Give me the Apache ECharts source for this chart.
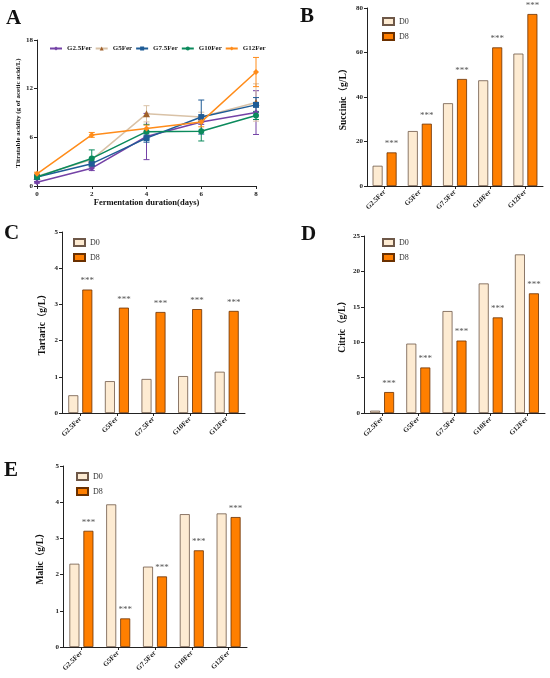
<!DOCTYPE html>
<html>
<head>
<meta charset="utf-8">
<script src="https://cdn.jsdelivr.net/npm/echarts@6/dist/echarts.min.js"></script>
<style>
  html, body { margin: 0; padding: 0; background: #fff; }
  #chart { width: 550px; height: 678px; }
</style>
</head>
<body>
<div id="chart"></div>
<script>
// panel A - titratable acidity over fermentation days
const days = [0, 2, 4, 6, 8];
const lineNames = ['G2.5Fer', 'G5Fer', 'G7.5Fer', 'G10Fer', 'G12Fer'];
const g25Acid = [0.45, 2.2, 6.1, 7.9, 9.05];
const g5Acid = [1.2, 3.25, 8.9, 8.5, 10.3];
const g75Acid = [1.1, 2.75, 5.9, 8.5, 10.0];
const g10Acid = [1.1, 3.4, 6.7, 6.75, 8.7];
const g12Acid = [1.5, 6.3, 7.1, 7.9, 14.05];
const g25Err = [0.1, 0.3, 2.85, 0.3, 2.7];
const g5Err = [0.1, 0.2, 1.0, 0.6, 2.3];
const g75Err = [0.1, 0.2, 0.5, 2.1, 0.9];
const g10Err = [0.1, 1.05, 0.9, 1.2, 0.5];
const g12Err = [0.2, 0.3, 0.4, 0.6, 1.8];

// panels B-E - acids at D0 and D8
const groups = ['G2.5Fer', 'G5Fer', 'G7.5Fer', 'G10Fer', 'G12Fer'];
const succD0 = [9.1, 24.7, 37.2, 47.5, 59.5];
const succD8 = [15.1, 28.0, 48.1, 62.3, 77.3];
const tartD0 = [0.49, 0.88, 0.94, 1.02, 1.14];
const tartD8 = [3.41, 2.91, 2.79, 2.87, 2.82];
const citD0 = [0.33, 9.8, 14.4, 18.3, 22.4];
const citD8 = [2.96, 6.43, 10.23, 13.5, 16.9];
const malD0 = [2.30, 3.94, 2.22, 3.67, 3.69];
const malD8 = [3.21, 0.79, 1.95, 2.67, 3.59];

const serif = 'Liberation Serif, Noto Sans CJK SC, serif';
const lineColors = ['#7442a6', '#d9c2a7', '#1f5c96', '#0b8a5c', '#ff8c1a'];
const markers = ['diamond', 'triangle', 'rect', 'circle', 'diamond'];
const acidSets = [g25Acid, g5Acid, g75Acid, g10Acid, g12Acid];
const errSets = [g25Err, g5Err, g75Err, g10Err, g12Err];

const chart = echarts.init(document.getElementById('chart'));

const grids = [
    { left: 37, top: 40, width: 219, height: 146 },   // A
    { left: 367, top: 8, width: 176, height: 178 },   // B
    { left: 62, top: 232, width: 183, height: 181 },  // C
    { left: 364, top: 236, width: 181, height: 177 }, // D
    { left: 63, top: 466, width: 184, height: 181 }   // E
];

const axisLine = { lineStyle: { color: '#222', width: 1 } };
const tickLabel = { fontFamily: serif, fontWeight: 'bold', fontSize: 7, color: '#222' };
const axisName = { fontFamily: serif, fontWeight: 'bold', fontSize: 9.5, color: '#111' };

const xAxes = [{
    gridIndex: 0, type: 'value', min: 0, max: 8, interval: 2,
    axisLine: axisLine, axisTick: { show: true, length: 3, lineStyle: { color: '#222' } },
    splitLine: { show: false }, axisLabel: Object.assign({ margin: 5 }, tickLabel),
    name: 'Fermentation duration(days)', nameLocation: 'middle', nameGap: 12,
    nameTextStyle: Object.assign({}, axisName, { fontSize: 8.5 })
}];
const yAxes = [{
    gridIndex: 0, type: 'value', min: 0, max: 18, interval: 6,
    axisLine: Object.assign({ show: true }, axisLine),
    axisTick: { show: true, length: 3, lineStyle: { color: '#222' } },
    splitLine: { show: false }, axisLabel: Object.assign({ margin: 4 }, tickLabel),
    name: 'Titratable acidity (g of acetic acid/L)', nameLocation: 'middle', nameGap: 15,
    nameTextStyle: Object.assign({}, axisName, { fontSize: 7 })
}];

const barPanels = [
    { name: 'Succinic（g/L）', max: 80, interval: 20, d0: succD0, d8: succD8, gap: 19 },
    { name: 'Tartaric（g/L）', max: 5, interval: 1, d0: tartD0, d8: tartD8, gap: 15 },
    { name: 'Citric（g/L）', max: 25, interval: 5, d0: citD0, d8: citD8, gap: 17 },
    { name: 'Malic（g/L）', max: 5, interval: 1, d0: malD0, d8: malD8, gap: 18 }
];

const series = [];

// line series + error bars for panel A
acidSets.forEach(function (vals, i) {
    series.push({
        name: lineNames[i], type: 'line', xAxisIndex: 0, yAxisIndex: 0,
        data: days.map(function (d, k) { return [d, vals[k]]; }),
        symbol: markers[i], symbolSize: i === 1 ? 7 : 6,
        lineStyle: { color: lineColors[i], width: 1.5 },
        itemStyle: { color: i === 1 ? '#a0602a' : lineColors[i] },
        z: 3 + i
    });
    series.push({
        type: 'custom', xAxisIndex: 0, yAxisIndex: 0, silent: true, z: 2,
        data: days.map(function (d, k) { return [d, vals[k], errSets[i][k]]; }),
        renderItem: function (params, api) {
            const x = api.value(0), y = api.value(1), e = api.value(2);
            const top = api.coord([x, y + e]);
            const bot = api.coord([x, y - e]);
            const st = { stroke: lineColors[i], lineWidth: 1 };
            return {
                type: 'group', children: [
                    { type: 'line', shape: { x1: top[0], y1: top[1], x2: bot[0], y2: bot[1] }, style: st },
                    { type: 'line', shape: { x1: top[0] - 3, y1: top[1], x2: top[0] + 3, y2: top[1] }, style: st },
                    { type: 'line', shape: { x1: bot[0] - 3, y1: bot[1], x2: bot[0] + 3, y2: bot[1] }, style: st }
                ]
            };
        }
    });
});

barPanels.forEach(function (p, j) {
    const gi = j + 1;
    xAxes.push({
        gridIndex: gi, type: 'category', data: groups,
        axisLine: axisLine,
        axisTick: { show: true, alignWithLabel: true, length: 3, lineStyle: { color: '#222' } },
        axisLabel: Object.assign({ rotate: 45, margin: 5, interval: 0 }, tickLabel)
    });
    yAxes.push({
        gridIndex: gi, type: 'value', min: 0, max: p.max, interval: p.interval,
        axisLine: Object.assign({ show: true }, axisLine),
        axisTick: { show: true, length: 3, lineStyle: { color: '#222' } },
        splitLine: { show: false }, axisLabel: Object.assign({ margin: 4 }, tickLabel),
        name: p.name, nameLocation: 'middle', nameGap: p.gap, nameTextStyle: axisName
    });
    series.push({
        name: 'D0', type: 'bar', xAxisIndex: gi, yAxisIndex: gi, data: p.d0,
        barWidth: 10, barGap: '40%',
        itemStyle: { color: '#fdebd2', borderColor: '#6e5848', borderWidth: 0.8 }
    });
    series.push({
        name: 'D8', type: 'bar', xAxisIndex: gi, yAxisIndex: gi, data: p.d8,
        barWidth: 10, barGap: '40%',
        itemStyle: { color: '#ff7f00', borderColor: '#6a3000', borderWidth: 0.8 },
        label: {
            show: true, position: 'top', formatter: '***', distance: 4,
            fontFamily: serif, fontSize: 9, color: '#555'
        }
    });
});

const barLegendPos = [
    { left: 377, top: 12 }, { left: 68, top: 233 }, { left: 377, top: 233 }, { left: 71, top: 467 }
];
const legends = [{
    data: lineNames, left: 44, top: 40, orient: 'horizontal',
    itemWidth: 12, itemHeight: 5, itemGap: 3,
    textStyle: { fontFamily: serif, fontWeight: 'bold', fontSize: 7, color: '#222' }
}];
barLegendPos.forEach(function (pos) {
    legends.push({
        data: ['D0', 'D8'], left: pos.left, top: pos.top, orient: 'vertical',
        itemWidth: 11, itemHeight: 7, itemGap: 6, icon: 'rect',
        selectedMode: false,
        textStyle: { fontFamily: serif, fontSize: 8, color: '#333' }
    });
});

const letterStyle = { fontFamily: serif, fontWeight: 'bold', fontSize: 21, fill: '#111' };
const letters = [['A', 6, 8], ['B', 300, 6], ['C', 4, 223], ['D', 301, 224], ['E', 4, 460]];

chart.setOption({
    animation: false,
    backgroundColor: '#fff',
    grid: grids,
    xAxis: xAxes,
    yAxis: yAxes,
    legend: legends,
    series: series,
    graphic: letters.map(function (l) {
        return { type: 'text', left: l[1], top: l[2], style: Object.assign({ text: l[0] }, letterStyle) };
    })
});
</script>
</body>
</html>
